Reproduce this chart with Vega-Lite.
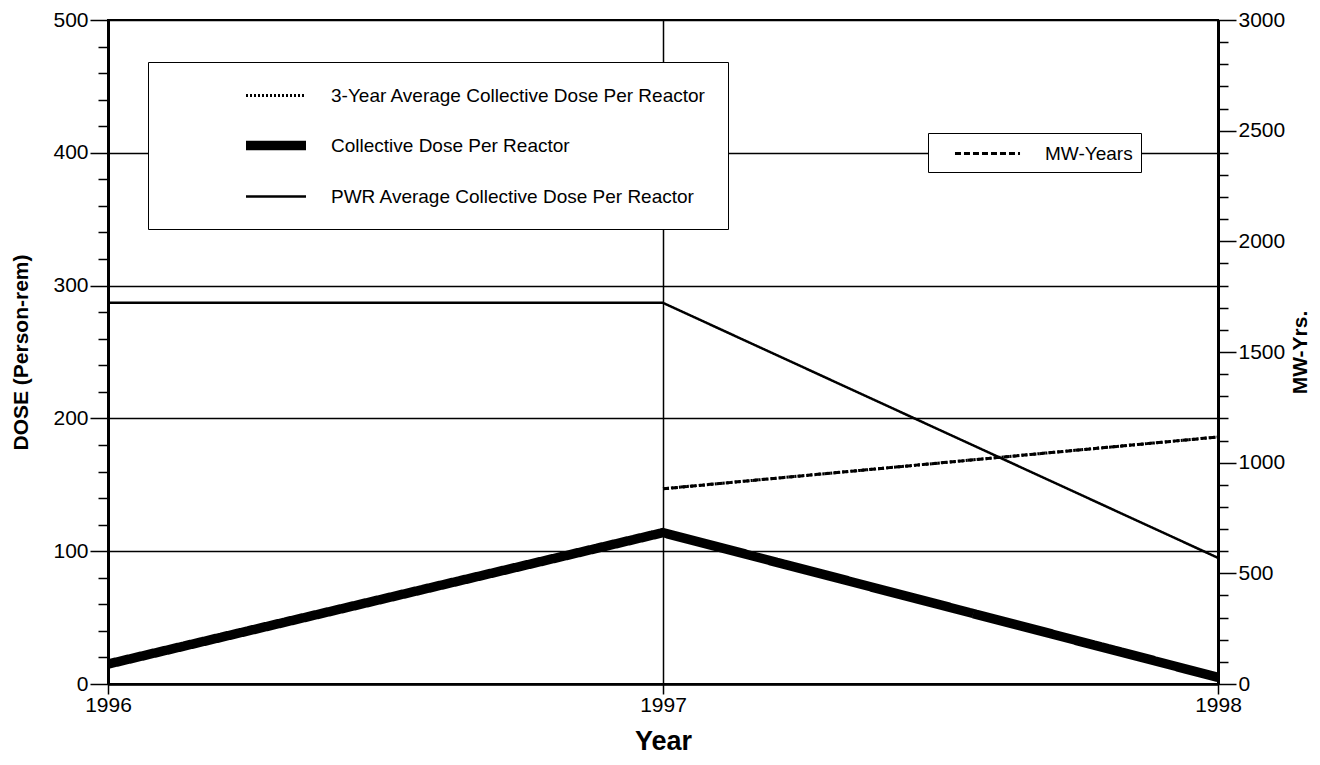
{
  "$schema": "https://vega.github.io/schema/vega-lite/v6.json",
  "width": 1110,
  "height": 664,
  "autosize": "none",
  "padding": {"left": 108, "top": 20, "right": 102, "bottom": 81},
  "background": "white",
  "config": {
    "view": {"stroke": "black", "strokeWidth": 2},
    "font": "Liberation Sans",
    "axis": {
      "labelFont": "Liberation Sans",
      "labelColor": "black",
      "titleColor": "black",
      "titleFont": "Liberation Sans",
      "titleFontWeight": "bold",
      "domainColor": "black",
      "tickColor": "black",
      "gridColor": "black"
    },
    "legend": {
      "labelFont": "Liberation Sans",
      "labelColor": "black",
      "strokeColor": "black",
      "fillColor": "white",
      "symbolStrokeColor": "black"
    }
  },
  "data": {
    "values": [
      {"year": 1996, "series": "Collective Dose Per Reactor", "value": 15},
      {"year": 1997, "series": "Collective Dose Per Reactor", "value": 114},
      {"year": 1998, "series": "Collective Dose Per Reactor", "value": 5},
      {"year": 1996, "series": "PWR Average Collective Dose Per Reactor", "value": 287},
      {"year": 1997, "series": "PWR Average Collective Dose Per Reactor", "value": 287},
      {"year": 1998, "series": "PWR Average Collective Dose Per Reactor", "value": 95},
      {"year": 1997, "series": "3-Year Average Collective Dose Per Reactor", "value": 147},
      {"year": 1998, "series": "3-Year Average Collective Dose Per Reactor", "value": 186},
      {"year": 1997, "series": "MW-Years", "value": 882},
      {"year": 1998, "series": "MW-Years", "value": 1116}
    ]
  },
  "encoding": {
    "x": {
      "field": "year",
      "type": "ordinal",
      "scale": {"type": "point", "domain": [1996, 1997, 1998], "padding": 0},
      "axis": {
        "title": "Year",
        "titleFontSize": 27,
        "titleX": 555,
        "titleY": 57,
        "titleBaseline": "middle",
        "labelFontSize": 21,
        "labelAngle": 0,
        "labelAlign": "center",
        "labelBaseline": "top",
        "labelPadding": 0,
        "tickSize": 10,
        "tickWidth": 1.5,
        "domainWidth": 2.5,
        "grid": true,
        "gridWidth": 1.5,
        "gridColor": "black",
        "labelFlush": false,
        "labelOverlap": false
      }
    }
  },
  "layer": [
    {
      "transform": [{"filter": "datum.series !== 'MW-Years'"}],
      "mark": {"type": "line", "color": "black", "strokeCap": "butt", "strokeJoin": "miter"},
      "encoding": {
        "y": {
          "field": "value",
          "type": "quantitative",
          "scale": {"domain": [0, 500], "nice": false},
          "axis": {
            "orient": "left",
            "values": [0, 20, 40, 60, 80, 100, 120, 140, 160, 180, 200, 220, 240, 260, 280, 300, 320, 340, 360, 380, 400, 420, 440, 460, 480, 500],
            "tickCount": 50,
            "labelExpr": "datum.value % 100 === 0 ? datum.label : ''",
            "title": "DOSE (Person-rem)",
            "titleFontSize": 21,
            "titleAngle": 270,
            "titleX": -87,
            "titleY": 332,
            "titleAlign": "center",
            "titleBaseline": "middle",
            "labelFontSize": 21,
            "labelPadding": 2,
            "tickSize": {"condition": {"test": "datum.value % 100 === 0", "value": 18}, "value": 10},
            "tickWidth": 1.5,
            "domainWidth": 3,
            "grid": true,
            "gridWidth": 1.5,
            "gridOpacity": {"condition": {"test": "datum.value % 100 === 0", "value": 1}, "value": 0}
          }
        },
        "strokeDash": {
          "field": "series",
          "type": "nominal",
          "scale": {
            "domain": ["3-Year Average Collective Dose Per Reactor", "Collective Dose Per Reactor", "PWR Average Collective Dose Per Reactor"],
            "range": [[2, 2], [1, 0], [1, 0]]
          },
          "legend": {
            "title": null,
            "orient": "none",
            "legendX": 40,
            "legendY": 42,
            "padding": 22,
            "symbolType": "M-3,0H3",
            "symbolOffset": 91,
            "symbolSize": 400,
            "labelOffset": 40,
            "labelFontSize": 19,
            "labelLimit": 0,
            "rowPadding": 20.5
          }
        },
        "strokeWidth": {
          "field": "series",
          "type": "nominal",
          "scale": {
            "type": "ordinal",
            "domain": ["3-Year Average Collective Dose Per Reactor", "Collective Dose Per Reactor", "PWR Average Collective Dose Per Reactor"],
            "range": [3, 9.5, 2.5]
          },
          "legend": {
            "title": null,
            "orient": "none",
            "legendX": 40,
            "legendY": 42,
            "padding": 22,
            "symbolType": "M-3,0H3",
            "symbolOffset": 91,
            "symbolSize": 400,
            "labelOffset": 40,
            "labelFontSize": 19,
            "labelLimit": 0,
            "rowPadding": 20.5
          }
        }
      }
    },
    {
      "transform": [{"filter": "datum.series === 'MW-Years'"}],
      "mark": {"type": "line", "color": "black", "strokeWidth": 3},
      "encoding": {
        "y": {
          "field": "value",
          "type": "quantitative",
          "scale": {"domain": [0, 3000], "nice": false},
          "axis": {
            "orient": "right",
            "values": [0, 100, 200, 300, 400, 500, 600, 700, 800, 900, 1000, 1100, 1200, 1300, 1400, 1500, 1600, 1700, 1800, 1900, 2000, 2100, 2200, 2300, 2400, 2500, 2600, 2700, 2800, 2900, 3000],
            "tickCount": 50,
            "labelExpr": "datum.value % 500 === 0 ? datum.label : ''",
            "format": "d",
            "title": "MW-Yrs.",
            "titleFontSize": 21,
            "titleAngle": 270,
            "titleX": 82,
            "titleY": 332,
            "titleAlign": "center",
            "titleBaseline": "middle",
            "labelFontSize": 21,
            "labelPadding": 2,
            "tickSize": {"condition": {"test": "datum.value % 500 === 0", "value": 18}, "value": 10},
            "tickWidth": 1.5,
            "domainWidth": 3,
            "grid": false
          }
        },
        "strokeDash": {
          "field": "series",
          "type": "nominal",
          "scale": {"domain": ["MW-Years"], "range": [[6, 3]]},
          "legend": {
            "title": null,
            "orient": "none",
            "legendX": 820,
            "legendY": 113,
            "padding": 8,
            "symbolType": "M-3,0H3",
            "symbolOffset": 39,
            "symbolSize": 470,
            "symbolStrokeWidth": 3,
            "labelOffset": 45,
            "labelFontSize": 19,
            "labelLimit": 0
          }
        }
      }
    }
  ],
  "resolve": {
    "scale": {"y": "independent", "strokeDash": "independent", "strokeWidth": "independent"},
    "axis": {"y": "independent"}
  }
}
